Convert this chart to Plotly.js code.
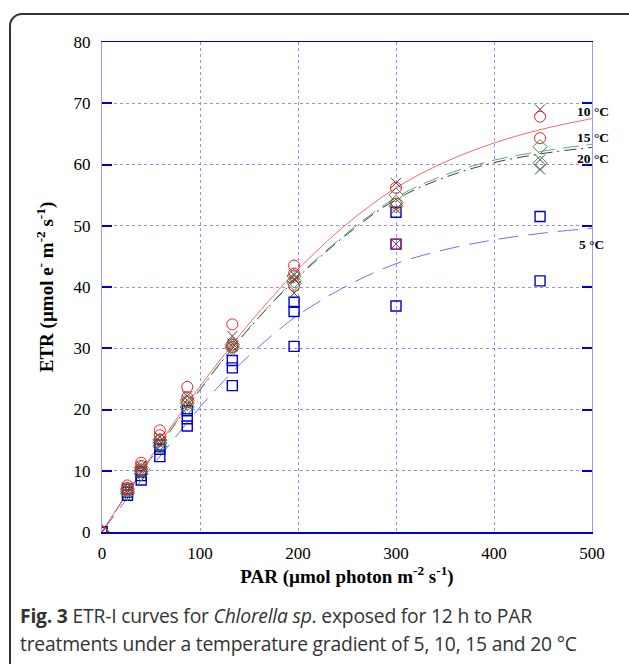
<!DOCTYPE html>
<html>
<head>
<meta charset="utf-8">
<script src="https://cdn.plot.ly/plotly-3.0.1.min.js"></script>
<style>
  html, body { margin:0; padding:0; background:#fff; width:629px; height:664px; overflow:hidden; }
  #chart { position:absolute; left:0; top:0; width:629px; height:664px; }
  #frame { position:absolute; left:9px; top:13px; width:640px; height:700px; border:2px solid #333; border-radius:13px; pointer-events:none; box-sizing:border-box; }
  #caption { position:absolute; left:20px; top:602px; width:605px; font-family:"Open Sans", sans-serif; font-size:19.3px; line-height:28px; color:#333; white-space:nowrap; letter-spacing:-0.2px; }
</style>
</head>
<body>
<div id="chart"></div>
<div id="frame"></div>
<div id="caption"><b>Fig. 3</b> ETR-I curves for <i>Chlorella sp</i>. exposed for 12 h to PAR<br>treatments under a temperature gradient of 5, 10, 15 and 20 °C</div>
<script>
// Measured points (PAR, ETR) per temperature
const par5  = [0,0,0, 26,26,26, 40,40,40, 59,59,59, 87,87,87, 133,133,133, 196,196,196, 300,300,300, 447,447];
const etr5  = [0,0,0, 6.0,6.5,7.0, 8.5,9.2,9.8, 12.3,13.5,14.2, 17.3,18.5,19.8, 23.9,26.8,28.0, 30.3,36.0,37.5, 36.9,47.0,52.2, 41.0,51.5];

const par10 = [0,0,0, 26,26,26, 40,40,40, 59,59,59, 87,87,87, 133,133,133, 196,196,196, 300,300,300, 447,447];
const etr10 = [0,0,0, 7.6,7.2,6.9, 11.3,10.8,10.2, 16.6,15.8,15.0, 23.7,22.0,21.2, 33.9,30.6,30.2, 43.5,42.2,40.2, 56.2,53.6,47.0, 67.8,64.3];

const par15 = [0,0,0, 26,26,26, 40,40,40, 59,59,59, 87,87,87, 133,133,133, 196,196,196, 300,300,300, 447,447];
const etr15 = [0,0,0, 7.0,6.6,6.3, 10.5,10.0,9.5, 15.0,14.5,14.0, 21.5,21.0,20.4, 30.6,30.3,30.0, 41.8,41.0,40.6, 55.0,53.8,53.2, 62.9,60.2];

const par20 = [0,0,0, 26,26,26, 40,40,40, 59,59,59, 87,87,87, 133,133,133, 196,196,196, 300,300,300, 447,447,447];
const etr20 = [0,0,0, 7.3,6.8,6.4, 10.8,10.4,9.8, 15.5,14.8,14.3, 22.2,21.5,20.8, 32.0,30.8,30.3, 42.0,41.3,39.0, 57.0,52.7,47.0, 69.0,60.8,59.2];

// Fitted curves
const fitPar = [0,25,50,75,100,125,150,175,200,250,300,350,400,450,500];
const fit5   = [0,5.3,10.5,15.5,20.4,24.8,28.8,32.3,35.4,40.2,43.8,46.1,47.7,48.8,49.6];
const fit10  = [0,6.2,12.3,18.2,23.8,29.0,34.0,38.6,42.9,50.3,56.2,60.4,63.5,65.8,67.5];
const fit15  = [0,6.1,12.0,17.8,23.3,28.5,33.3,37.7,41.8,48.8,54.6,58.3,60.7,62.2,63.3];
const fit20  = [0,6.1,12.0,17.7,23.2,28.4,33.2,37.6,41.6,48.6,54.3,57.9,60.3,61.8,62.8];

// Curve labels
const labelText = ["10 °C", "15 °C", "20 °C", "5 °C"];
const labelX    = [483, 483, 483, 485];
const labelY    = [68.7, 64.4, 60.9, 47.0];

const xTicks = [0,100,200,300,400,500];
const yTicks = [0,10,20,30,40,50,60,70,80];

const serif = "Liberation Serif, Times New Roman, serif";

const traces = [
  {x: fitPar, y: fit5,  mode:'lines', line:{color:'#7070ff', width:1, dash:'20px,10px', shape:'spline'}, hoverinfo:'skip'},
  {x: fitPar, y: fit20, mode:'lines', line:{color:'#404040', width:1, dash:'12px,5px,2px,5px', shape:'spline'}, hoverinfo:'skip'},
  {x: fitPar, y: fit15, mode:'lines', line:{color:'#5fa86f', width:1, dash:'16px,8px', shape:'spline'}, hoverinfo:'skip'},
  {x: fitPar, y: fit10, mode:'lines', line:{color:'#ff6666', width:1, shape:'spline'}, hoverinfo:'skip'},
  {x: par5,  y: etr5,  mode:'markers', marker:{symbol:'square-open', size:10, color:'#0000cc', line:{width:1.4}}},
  {x: par20, y: etr20, mode:'markers', marker:{symbol:'x-thin-open', size:10, color:'#444444', line:{width:1}}},
  {x: par15, y: etr15, mode:'markers', marker:{symbol:'diamond-open', size:11, color:'#3d8a4d', line:{width:1}}},
  {x: par10, y: etr10, mode:'markers', marker:{symbol:'circle-open', size:11, color:'#ee2222', line:{width:1}}}
];

const annotations = labelText.map((t,i) => ({
  x: labelX[i], y: labelY[i], xref:'x', yref:'y', text: '<b>'+t+'</b>', showarrow:false,
  font:{family:serif, size:13.5, color:'#000'}, xanchor:'left', yanchor:'middle'
}));

const layout = {
  width:629, height:664,
  margin:{l:102, r:37, t:42, b:132},
  paper_bgcolor:'rgba(0,0,0,0)', plot_bgcolor:'#fff',
  showlegend:false,
  font:{family:serif, color:'#000'},
  xaxis:{
    range:[0,500], tickvals:xTicks, ticktext:xTicks.map(String),
    showgrid:true, gridcolor:'#8f8fff', griddash:'dot', gridwidth:1,
    zeroline:false, showline:true, linecolor:'#0000cc', linewidth:1.5, mirror:true,
    ticks:'', tickfont:{family:serif, size:17, color:'#000'}, ticklabelstandoff:5,
    title:{text:'<b>PAR (µmol photon m<sup>-2</sup> s<sup>-1</sup>)</b>', font:{family:serif, size:19, color:'#000'}, standoff:6}
  },
  yaxis:{
    range:[0,80], tickvals:yTicks, ticktext:yTicks.map(String),
    showgrid:true, gridcolor:'#8f8fff', griddash:'dot', gridwidth:1,
    zeroline:false, showline:true, linecolor:'#9a9aff', linewidth:1, mirror:'ticks',
    ticks:'inside', ticklen:10, tickwidth:2, tickcolor:'#0000cc',
    tickfont:{family:serif, size:17, color:'#000'}, ticklabelstandoff:7,
    title:{text:'<b>ETR (µmol e<sup>-</sup> m<sup>-2</sup> s<sup>-1</sup>)</b>', font:{family:serif, size:19, color:'#000'}, standoff:14}
  },
  annotations: annotations
};

Plotly.newPlot('chart', traces, layout, {displayModeBar:false, staticPlot:true});
</script>
</body>
</html>
